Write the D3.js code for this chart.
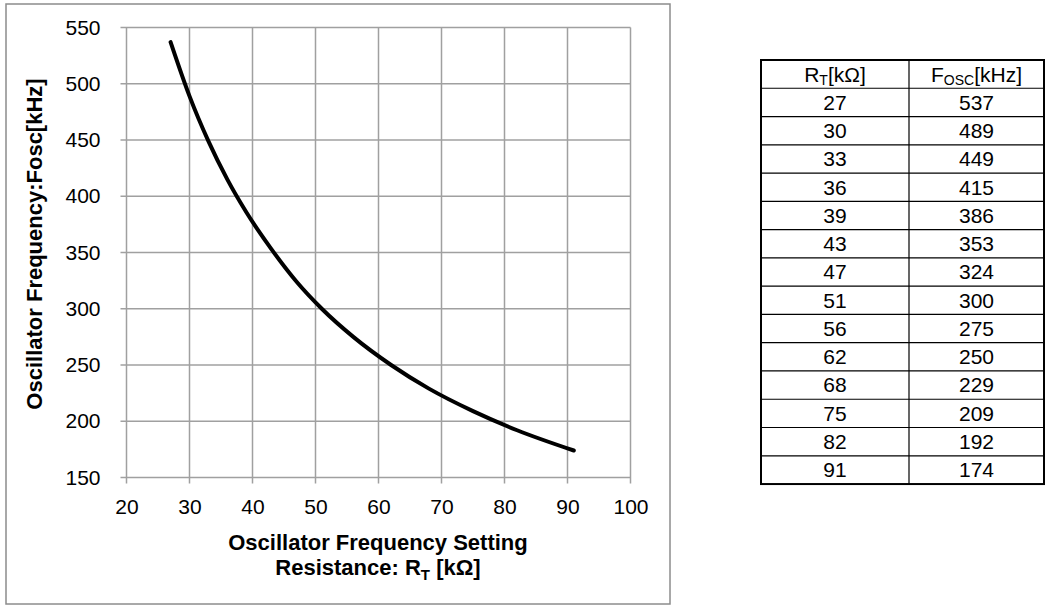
<!DOCTYPE html>
<html>
<head>
<meta charset="utf-8">
<script src="https://cdn.jsdelivr.net/npm/d3@7"></script>
<style>
  body { margin: 0; background: #fff; }
  text { font-family: "Liberation Sans", Arial, sans-serif; fill: #000; }
</style>
</head>
<body>
<div id="chart"></div>
<script>
// table / curve data
const rtValues = [27, 30, 33, 36, 39, 43, 47, 51, 56, 62, 68, 75, 82, 91];
const foscValues = [537, 489, 449, 415, 386, 353, 324, 300, 275, 250, 229, 209, 192, 174];
const xTicks = [20, 30, 40, 50, 60, 70, 80, 90, 100];
const yTicks = [150, 200, 250, 300, 350, 400, 450, 500, 550];

const width = 1046;
const height = 605;
const plot = { left: 126.5, right: 630.5, top: 27.5, bottom: 477.5 };

const svg = d3.select('#chart').append('svg')
  .attr('width', width)
  .attr('height', height);

// outer chart frame
svg.append('rect')
  .attr('x', 6).attr('y', 4)
  .attr('width', 664).attr('height', 600)
  .attr('fill', '#fff')
  .attr('stroke', '#8c8c8c')
  .attr('stroke-width', 1.5);

const xScale = d3.scaleLinear().domain([20, 100]).range([plot.left, plot.right]);
const yScale = d3.scaleLinear().domain([150, 550]).range([plot.bottom, plot.top]);

// grid lines
const grid = svg.append('g').attr('stroke', '#a0a0a0').attr('stroke-width', 1.5);
grid.selectAll('.vx').data(xTicks).enter().append('line')
  .attr('x1', d => xScale(d)).attr('x2', d => xScale(d))
  .attr('y1', plot.top).attr('y2', plot.bottom + 6);
grid.selectAll('.hy').data(yTicks).enter().append('line')
  .attr('x1', plot.left - 6).attr('x2', plot.right)
  .attr('y1', d => yScale(d)).attr('y2', d => yScale(d));

// axes labels
const xAxis = d3.axisBottom(xScale).tickValues(xTicks).tickSize(0).tickPadding(22);
const yAxis = d3.axisLeft(yScale).tickValues(yTicks).tickSize(0).tickPadding(26);

const gx = svg.append('g')
  .attr('transform', 'translate(0,' + plot.bottom + ')')
  .call(xAxis);
const gy = svg.append('g')
  .attr('transform', 'translate(' + plot.left + ',0)')
  .call(yAxis);
[gx, gy].forEach(g => {
  g.select('.domain').remove();
  g.selectAll('text')
    .attr('font-size', 21)
    .attr('font-family', '"Liberation Sans", Arial, sans-serif')
    .attr('fill', '#000');
});

// curve
const line = d3.line()
  .x((d, i) => xScale(rtValues[i]))
  .y(d => yScale(d))
  .curve(d3.curveMonotoneX);

svg.append('path')
  .datum(foscValues)
  .attr('d', line)
  .attr('fill', 'none')
  .attr('stroke', '#000')
  .attr('stroke-width', 4)
  .attr('stroke-linecap', 'round');

// axis titles
const xt = svg.append('text')
  .attr('text-anchor', 'middle')
  .attr('font-size', 22)
  .attr('font-weight', 'bold');
xt.append('tspan').attr('x', 378).attr('y', 550).text('Oscillator Frequency Setting');
const xt2 = xt.append('tspan').attr('x', 378).attr('y', 575);
xt2.append('tspan').text('Resistance: R');
xt2.append('tspan').attr('font-size', 15).attr('dy', 5).text('T');
xt2.append('tspan').attr('dy', -5).text(' [kΩ]');

svg.append('text')
  .attr('transform', 'translate(42,244) rotate(-90)')
  .attr('text-anchor', 'middle')
  .attr('font-size', 22)
  .attr('font-weight', 'bold')
  .text('Oscillator Frequency:Fosc[kHz]');

// data table
const table = { left: 761, right: 1044, top: 60, rowH: 28.27, mid: 909 };
const rows = rtValues.length + 1;
const tbottom = table.top + rows * table.rowH;
const tg = svg.append('g');

tg.selectAll('.row').data(d3.range(1, rows)).enter().append('line')
  .attr('x1', table.left).attr('x2', table.right)
  .attr('y1', d => table.top + d * table.rowH)
  .attr('y2', d => table.top + d * table.rowH)
  .attr('stroke', '#000').attr('stroke-width', 1.2);
tg.append('line')
  .attr('x1', table.mid).attr('x2', table.mid)
  .attr('y1', table.top).attr('y2', tbottom)
  .attr('stroke', '#000').attr('stroke-width', 1.2);
tg.append('rect')
  .attr('x', table.left).attr('y', table.top)
  .attr('width', table.right - table.left).attr('height', tbottom - table.top)
  .attr('fill', 'none').attr('stroke', '#000').attr('stroke-width', 2);

const c1 = (table.left + table.mid) / 2;
const c2 = (table.mid + table.right) / 2;

const h1 = tg.append('text').attr('x', c1).attr('y', table.top + 21.5)
  .attr('text-anchor', 'middle').attr('font-size', 21);
h1.append('tspan').text('R');
h1.append('tspan').attr('font-size', 14).attr('dy', 3).text('T');
h1.append('tspan').attr('dy', -3).text('[kΩ]');

const h2 = tg.append('text').attr('x', c2).attr('y', table.top + 21.5)
  .attr('text-anchor', 'middle').attr('font-size', 21);
h2.append('tspan').text('F');
h2.append('tspan').attr('font-size', 14).attr('dy', 3).text('OSC');
h2.append('tspan').attr('dy', -3).text('[kHz]');

tg.selectAll('.rt').data(rtValues).enter().append('text')
  .attr('x', c1)
  .attr('y', (d, i) => table.top + (i + 1) * table.rowH + 21.5)
  .attr('text-anchor', 'middle').attr('font-size', 21)
  .text(d => d);
tg.selectAll('.fo').data(foscValues).enter().append('text')
  .attr('x', c2)
  .attr('y', (d, i) => table.top + (i + 1) * table.rowH + 21.5)
  .attr('text-anchor', 'middle').attr('font-size', 21)
  .text(d => d);
</script>
</body>
</html>
